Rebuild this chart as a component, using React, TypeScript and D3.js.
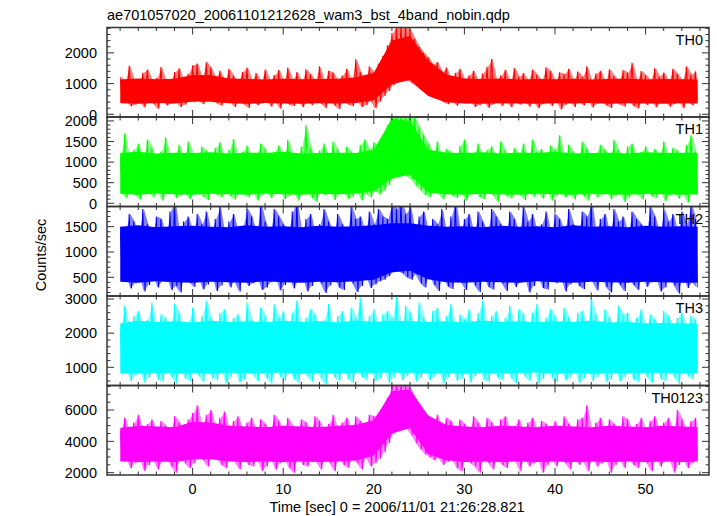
import React from 'react';
import * as d3 from 'd3';

// Half-second bins starting at t = -8 s: upper and lower excursion of the light curve in each bin
const binStart = -8;
const binWidth = 0.5;
// Dense core of the band, read every 2 s from t = -8 s
const coreStart = -8;
const coreStep = 2;
const dataEnd = 55.75;

const th0Hi = [
  1220, 1080, 1580, 1120, 1050, 1350, 1460, 1090, 1180, 1540, 1100, 1060, 1380, 1500, 1070, 1320,
  1600, 1650, 1180, 1700, 1520, 1200, 1420, 1100, 1480, 1250, 1080, 1380, 1520, 1110, 1340, 1060,
  1460, 1090, 1280, 1440, 1070, 1520, 1120, 1380, 1050, 1470, 1300, 1100, 1560, 1080, 1420, 1350,
  1100, 1260, 1480, 1090, 1790, 1380, 1120, 1560, 1350, 1650, 1900, 2250, 2650, 2900, 2900, 2900,
  2750, 2450, 2200, 2000, 1850, 1620, 1700, 1380, 1520, 1090, 1350, 1480, 1100, 1270, 1420, 1060,
  1330, 1550, 1800, 1100, 1260, 1450, 1070, 1510, 1220, 1340, 1090, 1460, 1290, 1110, 1530, 1400,
  1080, 1370, 1310, 1480, 1100, 1390, 1220, 1560, 1090, 1330, 1420, 1060, 1470, 1250, 1110, 1440,
  1350, 1680, 1090, 1410, 1270, 1120, 1500, 1230, 1360, 1080, 1480, 1320, 1100, 1560, 1290, 1400,
];
const th0Lo = [
  380, 440, 260, 310, 450, 220, 420, 340, 180, 460, 290, 350, 430, 240, 310, 420,
  400, 460, 330, 450, 480, 360, 280, 470, 390, 240, 450, 330, 210, 440, 300, 360,
  450, 250, 420, 180, 460, 320, 270, 440, 230, 410, 300, 460, 350, 210, 430, 290,
  170, 440, 320, 260, 450, 240, 300, 430, 200, 420, 600, 760, 950, 1100, 1150, 1120,
  1030, 920, 800, 700, 610, 520, 470, 400, 330, 450, 280, 420, 350, 460, 240, 300,
  430, 210, 320, 450, 270, 440, 230, 400, 310, 460, 250, 420, 200, 330, 450, 270,
  440, 160, 310, 460, 240, 430, 290, 450, 220, 340, 470, 290, 210, 440, 320, 250,
  450, 270, 190, 430, 300, 460, 220, 380, 440, 250, 330, 460, 200, 420, 290, 430,
];
const th0CoreHi = [
  1130, 1170, 1140, 1160, 1280, 1270, 1170, 1150, 1130, 1160, 1140, 1150, 1160, 1200, 1350, 2400, 2550,
  1750, 1300, 1170, 1150, 1170, 1130, 1150, 1140, 1160, 1130, 1150, 1160, 1130, 1150, 1140, 1130,
];
const th0CoreLo = [
  360, 340, 370, 350, 420, 410, 360, 340, 370, 350, 340, 360, 350, 370, 460, 980, 1120,
  600, 390, 350, 340, 360, 350, 340, 360, 350, 370, 340, 360, 350, 340, 360, 350,
];

const th1Hi = [
  1150, 1700, 1080, 1300, 1450, 1050, 1550, 1350, 1070, 1250, 1600, 1090, 1180, 1420, 1060, 1500,
  1220, 1060, 1380, 1280, 1080, 1350, 1480, 1040, 1300, 1560, 1090, 1250, 1400, 1070, 1180, 1450,
  1320, 1060, 1250, 1400, 1080, 1550, 1200, 1090, 1380, 1900, 1350, 1060, 1280, 1450, 1070, 1500,
  1300, 1090, 1380, 1250, 1060, 1420, 1550, 1300, 1480, 1400, 1600, 1900, 2300, 2300, 2300, 2300,
  2300, 2100, 1850, 1650, 1450, 1200, 1500, 1080, 1320, 1250, 1070, 1400, 1550, 1090, 1200, 1450,
  1060, 1300, 1380, 1080, 1500, 1280, 1050, 1350, 1200, 1450, 1080, 1550, 1250, 1320, 1060, 1400,
  1300, 1650, 1090, 1420, 1250, 1060, 1500, 1330, 1080, 1200, 1420, 1300, 1070, 1550, 1280, 1090,
  1380, 1450, 1080, 1250, 1380, 1060, 1320, 1200, 1500, 1090, 1350, 1280, 1060, 1420, 1650, 1250,
];
const th1Lo = [
  280, 120, 320, 200, 90, 310, 250, 150, 300, 60, 220, 320, 130, 180, 290, 100,
  240, 310, 160, 80, 300, 210, 140, 320, 170, 90, 290, 230, 140, 310, 70, 200,
  300, 120, 250, 320, 100, 180, 290, 60, 240, 310, 130, 30, 280, 190, 320, 80,
  210, 300, 100, 160, 310, 70, 230, 140, 290, 220, 300, 450, 600, 700, 720, 650,
  580, 420, 320, 200, 150, 300, 230, 90, 310, 180, 130, 290, 60, 210, 320, 150,
  100, 310, 190, 40, 280, 170, 120, 320, 200, 80, 300, 160, 230, 110, 310, 60,
  180, 300, 140, 220, 90, 310, 170, 60, 290, 140, 210, 320, 100, 180, 300, 30,
  140, 310, 210, 90, 300, 170, 130, 320, 50, 200, 290, 110, 240, 20, 300, 190,
];
const th1CoreHi = [
  1220, 1250, 1210, 1230, 1220, 1240, 1210, 1230, 1220, 1250, 1210, 1220, 1230, 1220, 1300, 2050, 2000,
  1300, 1230, 1220, 1240, 1210, 1230, 1220, 1250, 1210, 1220, 1230, 1210, 1240, 1220, 1230, 1220,
];
const th1CoreLo = [
  230, 210, 240, 220, 210, 230, 220, 210, 240, 220, 210, 230, 220, 240, 300, 600, 690,
  260, 220, 210, 230, 220, 210, 240, 220, 210, 230, 220, 210, 230, 220, 210, 220,
];

const th2Hi = [
  1500, 1380, 1750, 1600, 1340, 1850, 1550, 1370, 1700, 1650, 1330, 1800, 2000, 1390, 1600, 1700,
  1360, 1750, 1550, 1800, 1380, 1650, 1900, 1340, 1600, 1750, 1370, 1500, 1850, 1700, 1350, 1950,
  1600, 1390, 1850, 1700, 1550, 1360, 1800, 2000, 1380, 1650, 1750, 1340, 1550, 1850, 1600, 1370,
  1750, 1550, 1360, 1900, 1650, 1700, 1380, 1800, 1550, 1850, 1700, 1650, 2000, 1850, 2000, 1750,
  1900, 1420, 1700, 1800, 1380, 1650, 1550, 1850, 1350, 1700, 2000, 1390, 1650, 1750, 1360, 1800,
  1600, 1380, 1850, 1700, 1550, 1340, 1800, 1650, 1370, 1900, 1600, 1750, 1380, 1550, 1800, 1350,
  1750, 1650, 1390, 1850, 1550, 1360, 1800, 1700, 2000, 1380, 1650, 1750, 1340, 1850, 1600, 1700,
  1370, 1800, 1650, 1550, 1380, 1900, 1700, 1350, 1850, 1600, 1750, 1390, 1800, 1550, 1950, 1650,
];
const th2Lo = [
  450, 560, 280, 380, 540, 220, 350, 570, 300, 420, 550, 250, 330, 200, 560, 400,
  310, 540, 260, 360, 570, 230, 340, 550, 300, 420, 220, 560, 330, 380, 540, 250,
  300, 400, 550, 240, 350, 570, 280, 420, 550, 220, 330, 560, 380, 190, 340, 560,
  300, 250, 560, 380, 210, 330, 550, 290, 360, 420, 450, 520, 600, 630, 580, 500,
  450, 560, 380, 300, 550, 350, 230, 560, 320, 270, 540, 400, 250, 560, 340, 210,
  550, 310, 260, 570, 380, 230, 540, 310, 400, 560, 200, 330, 550, 290, 260, 560,
  380, 540, 220, 360, 570, 330, 270, 550, 410, 240, 560, 310, 200, 540, 350, 230,
  560, 350, 250, 540, 310, 400, 560, 220, 300, 550, 340, 180, 560, 290, 400, 300,
];
const th2CoreHi = [
  1500, 1530, 1490, 1510, 1520, 1500, 1490, 1530, 1500, 1510, 1490, 1520, 1500, 1510, 1530, 1570, 1570,
  1520, 1500, 1510, 1490, 1520, 1500, 1510, 1490, 1530, 1500, 1510, 1490, 1520, 1500, 1510, 1500,
];
const th2CoreLo = [
  410, 390, 420, 400, 390, 410, 400, 390, 420, 400, 390, 410, 400, 420, 450, 600, 630,
  460, 400, 390, 410, 400, 390, 420, 400, 390, 410, 400, 390, 410, 400, 390, 400,
];

const th3Hi = [
  2150, 2800, 2100, 2500, 2650, 2120, 2400, 2900, 2080, 2550, 2450, 2130, 2850, 2600, 2100, 2300,
  2750, 2110, 2500, 2950, 2450, 2080, 2600, 2700, 2120, 2450, 2550, 2090, 2900, 2400, 2130, 2750,
  2500, 2100, 2850, 2450, 2650, 2080, 2600, 2950, 2120, 2450, 2700, 2550, 2100, 2400, 2850, 2110,
  2500, 2650, 2090, 2750, 2450, 3050, 2120, 2500, 2700, 2080, 2550, 2650, 2450, 3100, 2130, 2800,
  2600, 2080, 2900, 2450, 2120, 2650, 2750, 2100, 2500, 2850, 2090, 2550, 2400, 2700, 2110, 2600,
  2950, 2120, 2500, 2650, 2080, 2450, 2800, 2100, 2700, 2550, 2130, 2600, 2850, 2090, 2450, 2700,
  2500, 2110, 2750, 2450, 2080, 2600, 2650, 2120, 3000, 2550, 2100, 2700, 2450, 2090, 2800, 2550,
  2600, 2100, 2450, 2700, 2130, 2550, 2400, 2090, 2650, 2500, 2110, 2450, 2600, 2080, 2500, 2400,
];
const th3Lo = [
  800, 990, 600, 750, 1000, 550, 700, 980, 650, 580, 1010, 720, 520, 990, 680, 600,
  1000, 760, 570, 990, 690, 620, 1010, 540, 700, 980, 560, 640, 1000, 780, 590, 990,
  680, 530, 1000, 720, 610, 990, 660, 550, 1010, 740, 580, 990, 680, 500, 1000, 710,
  600, 990, 660, 550, 1010, 720, 630, 980, 590, 680, 1000, 540, 700, 990, 610, 740,
  1000, 580, 690, 990, 620, 720, 1010, 530, 700, 980, 610, 660, 1000, 550, 740, 990,
  650, 570, 1000, 700, 620, 990, 680, 540, 1010, 730, 600, 990, 520, 660, 1000, 690,
  560, 990, 620, 710, 1000, 540, 680, 990, 600, 720, 1010, 560, 650, 990, 590, 700,
  1000, 640, 580, 990, 720, 550, 1010, 660, 600, 990, 700, 520, 1000, 740, 650, 990,
];
const th3CoreHi = [
  2280, 2360, 2330, 2350, 2310, 2360, 2330, 2350, 2320, 2360, 2330, 2350, 2310, 2370, 2330, 2360, 2350,
  2330, 2350, 2310, 2370, 2330, 2350, 2320, 2350, 2330, 2370, 2310, 2330, 2280, 2300, 2280, 2280,
];
const th3CoreLo = [
  830, 810, 840, 820, 830, 810, 850, 820, 830, 840, 810, 830, 820, 840, 830, 850, 840,
  820, 830, 810, 840, 820, 830, 850, 820, 830, 810, 840, 820, 830, 840, 820, 830,
];

const th0123Hi = [
  4700, 5500, 4600, 5200, 5700, 4650, 5100, 5400, 4550, 5300, 5000, 4600, 5600, 5200, 4650, 5400,
  5800, 6300, 4900, 5700, 6000, 4850, 5500, 5900, 4700, 5300, 5600, 4650, 5200, 5500, 4600, 5400,
  5100, 4650, 5700, 5300, 4600, 5500, 5000, 4650, 5400, 5200, 4600, 5600, 5300, 4700, 5100, 5700,
  4650, 5200, 5500, 4700, 5600, 5300, 4750, 5700, 5600, 5800, 6200, 6800, 7700, 7700, 7700, 7700,
  7400, 6800, 6200, 5900, 5600, 5200, 5700, 4800, 5500, 5300, 4650, 5400, 5100, 4600, 5600, 5200,
  4650, 5500, 5200, 4600, 5400, 5600, 4650, 5000, 5400, 4600, 5200, 5500, 4650, 5300, 5100, 4600,
  5300, 4650, 5600, 5100, 4600, 5400, 5500, 6300, 4650, 5200, 5500, 4600, 5400, 5100, 4650, 5600,
  5400, 4600, 5100, 5500, 4650, 5300, 5600, 4600, 5200, 5500, 4650, 6000, 5400, 4600, 5300, 5500,
];
const th0123Lo = [
  2800, 2950, 2300, 2600, 2950, 2100, 2500, 2900, 2200, 2700, 2950, 2400, 2000, 2900, 2600, 2300,
  2600, 3050, 2800, 2400, 3100, 2900, 2500, 2300, 3000, 2700, 2200, 2950, 2500, 2400, 2900, 2100,
  2400, 2950, 2200, 2600, 2900, 2300, 2000, 2950, 2500, 2400, 2900, 2700, 2200, 2950, 2600, 2100,
  2950, 2500, 2300, 2900, 2600, 2200, 2950, 2400, 2600, 2900, 3300, 3900, 4500, 5000, 5100, 4800,
  4400, 3900, 3500, 3200, 3000, 2800, 2950, 2500, 2700, 2900, 2300, 2100, 2950, 2600, 2400, 2000,
  2900, 2600, 2200, 2950, 2500, 2300, 2900, 2700, 2100, 2950, 2400, 2600, 2900, 2000, 2500, 2950,
  2400, 2900, 2600, 2200, 2950, 2500, 2700, 2100, 2900, 2400, 2600, 2950, 2000, 2500, 2900, 2300,
  2950, 2500, 2300, 2900, 2600, 2100, 2950, 2400, 2700, 2900, 2000, 2500, 2950, 2300, 2600, 2900,
];
const th0123CoreHi = [
  4850, 5000, 4950, 4900, 5250, 5200, 5000, 4950, 4900, 5000, 4950, 4900, 5000, 5050, 5350, 7200, 7300,
  5650, 5050, 4950, 4900, 5000, 4950, 4900, 5000, 4950, 4900, 5000, 4950, 4900, 5000, 4950, 4900,
];
const th0123CoreLo = [
  2720, 2680, 2720, 2680, 2850, 2850, 2720, 2680, 2720, 2680, 2720, 2680, 2720, 2780, 3100, 4500, 4850,
  3200, 2800, 2680, 2720, 2680, 2720, 2680, 2720, 2680, 2720, 2680, 2720, 2680, 2720, 2680, 2720,
];

const panelNames = ['TH0', 'TH1', 'TH2', 'TH3', 'TH0123'];
const yTickLabels = [
  [0, 1000, 2000],
  [0, 500, 1000, 1500, 2000],
  [500, 1000, 1500],
  [1000, 2000, 3000],
  [2000, 4000, 6000],
];
const xTickLabels = [0, 10, 20, 30, 40, 50];

const titleText = 'ae701057020_20061101212628_wam3_bst_4band_nobin.qdp';
const xTitle = 'Time [sec] 0 = 2006/11/01 21:26:28.821';
const yTitle = 'Counts/sec';

const W = 717;
const H = 516;
const left = 107;
const right = 709;
const top = 27.5;
const panelH = 89.5;
const FONT = '"Liberation Sans", Arial, Helvetica, sans-serif';

const panelCfg = [
  { hi: th0Hi, lo: th0Lo, coreHi: th0CoreHi, coreLo: th0CoreLo, domain: [-88, 2827], minor: 200, color: '#ff0000' },
  { hi: th1Hi, lo: th1Lo, coreHi: th1CoreHi, coreLo: th1CoreLo, domain: [-78, 2095], minor: 100, color: '#00ff00' },
  { hi: th2Hi, lo: th2Lo, coreHi: th2CoreHi, coreLo: th2CoreLo, domain: [130, 1899], minor: 100, color: '#0000ff' },
  { hi: th3Hi, lo: th3Lo, coreHi: th3CoreHi, coreLo: th3CoreLo, domain: [467, 3088], minor: 200, color: '#00ffff' },
  { hi: th0123Hi, lo: th0123Lo, coreHi: th0123CoreHi, coreLo: th0123CoreLo, domain: [1853, 7563], minor: 500, color: '#ff00ff' },
];

const x = d3.scaleLinear().domain([-9.45, 57.0]).range([left, right]);

function minorRange(a: number, b: number, step: number) {
  const out: number[] = [];
  for (let v = Math.ceil(a / step) * step; v <= b; v += step) out.push(v);
  return out;
}

type Pt = { t: number; hi: number; lo: number };

function Panel({ idx }: { idx: number }) {
  const cfg = panelCfg[idx];
  const y0 = top + idx * panelH;
  const y1 = y0 + panelH;
  const y = d3.scaleLinear().domain(cfg.domain).range([y1, y0]);

  // zig-zag through each half-second bin's extremes
  const zig: [number, number][] = [];
  cfg.hi.forEach((h, i) => {
    const t = binStart + i * binWidth;
    zig.push([t, h]);
    zig.push([t + binWidth / 2, cfg.lo[i]]);
  });
  const line = d3.line<[number, number]>().x((d) => x(d[0])).y((d) => y(d[1]));

  const bins: Pt[] = cfg.hi.map((h, i) => ({ t: binStart + (i + 0.25) * binWidth, hi: h, lo: cfg.lo[i] }));
  const core: Pt[] = cfg.coreHi.map((h, i) => ({ t: coreStart + i * coreStep, hi: h, lo: cfg.coreLo[i] }));
  const area = d3
    .area<Pt>()
    .x((d) => x(d.t))
    .y0((d) => y(d.lo))
    .y1((d) => y(d.hi));

  const clipId = `clip${idx}`;
  const yMinor = minorRange(cfg.domain[0], cfg.domain[1], cfg.minor);
  const xMinor = minorRange(-9.45, 57, 2);
  return (
    <g>
      <defs>
        <clipPath id={clipId}>
          <rect x={x(binStart)} y={y0} width={x(dataEnd) - x(binStart)} height={panelH} />
        </clipPath>
      </defs>
      <g clipPath={`url(#${clipId})`}>
        <path d={area(bins) || ''} fill={cfg.color} fillOpacity={0.5} stroke="none" />
        <path d={area(core) || ''} fill={cfg.color} stroke="none" />
        <path d={line(zig) || ''} fill="none" stroke={cfg.color} strokeWidth={1.05} />
      </g>
      {xMinor.map((t) => {
        const major = Math.abs(t % 10) < 1e-6;
        const len = major ? 7 : 3.5;
        return (
          <g key={'x' + t} stroke="#333" strokeWidth={1}>
            <line x1={x(t)} x2={x(t)} y1={y1} y2={y1 - len} />
            <line x1={x(t)} x2={x(t)} y1={y0} y2={y0 + len} />
          </g>
        );
      })}
      {yMinor.map((v) => {
        const major = yTickLabels[idx].includes(v);
        const len = major ? 7 : 3.5;
        return (
          <g key={'y' + v} stroke="#333" strokeWidth={1}>
            <line x1={left} x2={left + len} y1={y(v)} y2={y(v)} />
            <line x1={right} x2={right - len} y1={y(v)} y2={y(v)} />
          </g>
        );
      })}
      {yTickLabels[idx].map((v) => (
        <text key={'l' + v} x={97} y={y(v)} dy="0.36em" textAnchor="end" fontSize={14.5} fontFamily={FONT} fill="#000">
          {v}
        </text>
      ))}
      <text x={703} y={y0 + 17} textAnchor="end" fontSize={14.5} fontFamily={FONT} fill="#000">
        {panelNames[idx]}
      </text>
      <rect x={left} y={y0} width={right - left} height={panelH} fill="none" stroke="#333" strokeWidth={1.5} />
    </g>
  );
}

export default function App() {
  return (
    <svg width={W} height={H} style={{ position: 'absolute', left: 0, top: 0, background: '#fff' }}>
      <rect x={0} y={0} width={W} height={H} fill="#fff" />
      <text x={107} y={20} fontSize={14.5} fontFamily={FONT} fill="#000">{titleText}</text>
      {panelNames.map((_, i) => (
        <Panel key={i} idx={i} />
      ))}
      {xTickLabels.map((t) => (
        <text key={t} x={x(t)} y={494} textAnchor="middle" fontSize={14.5} fontFamily={FONT} fill="#000">
          {t}
        </text>
      ))}
      <text x={397} y={512} textAnchor="middle" fontSize={14.5} fontFamily={FONT} fill="#000">{xTitle}</text>
      <text transform="translate(46,255) rotate(-90)" textAnchor="middle" fontSize={14.5} fontFamily={FONT} fill="#000">
        {yTitle}
      </text>
    </svg>
  );
}
